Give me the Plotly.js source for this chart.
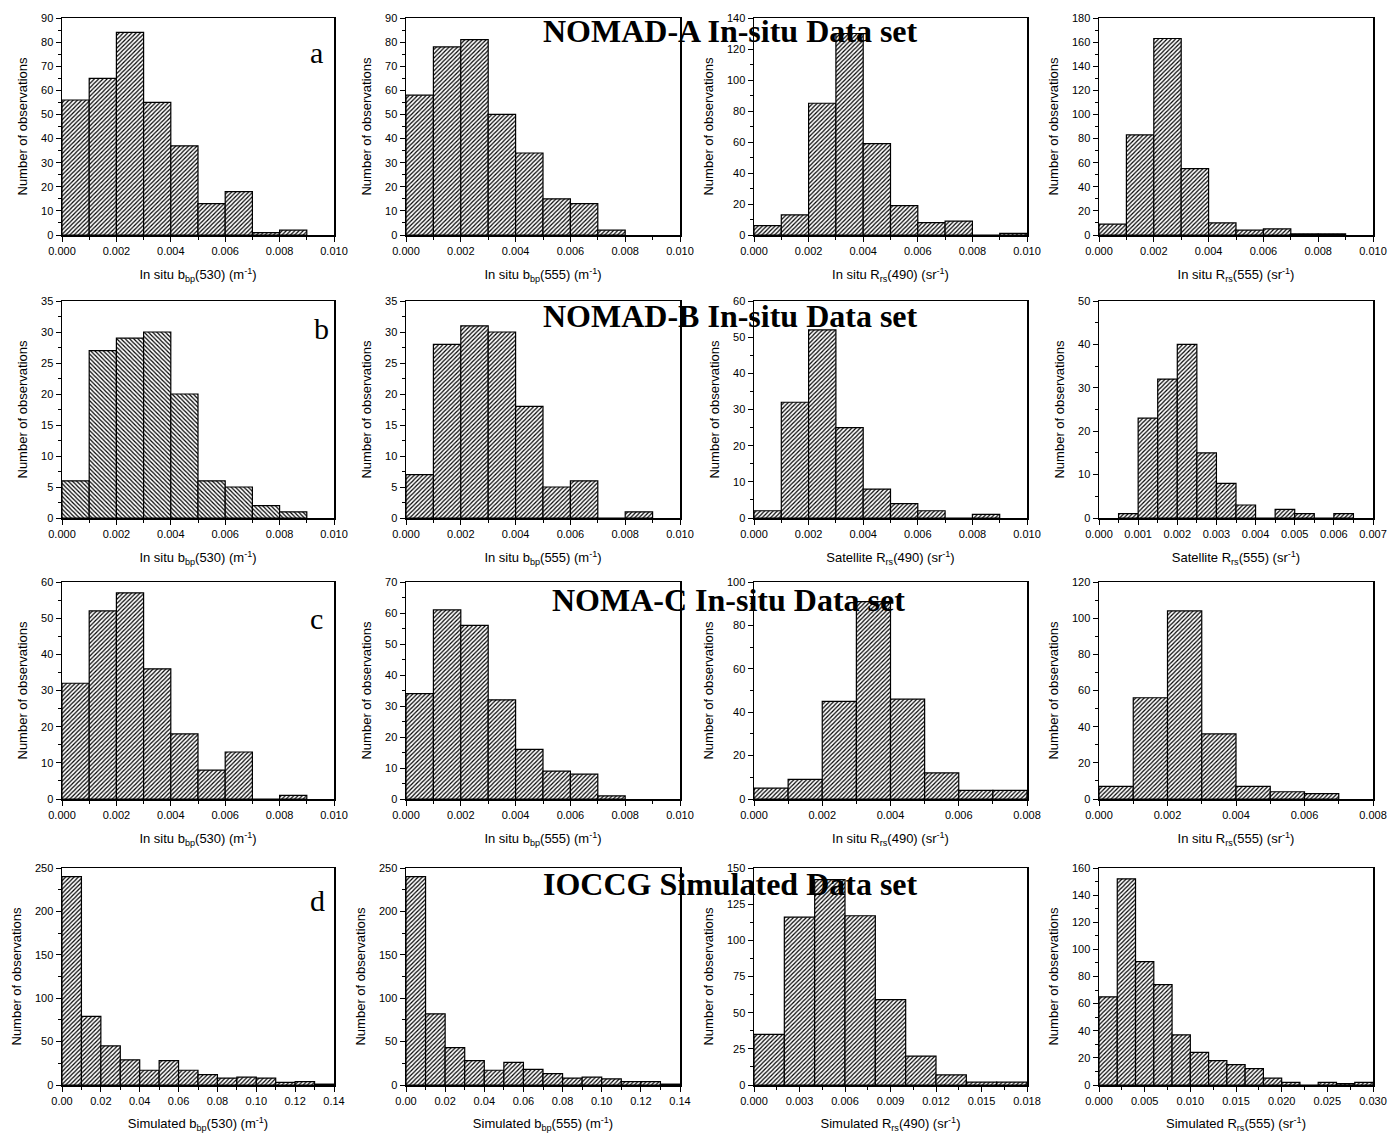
<!DOCTYPE html>
<html><head><meta charset="utf-8">
<script src="https://cdn.plot.ly/plotly-3.0.1.min.js"></script>
<style>html,body{margin:0;padding:0;background:#fff}</style>
</head><body><div id="chart" style="width:1392px;height:1133px"></div>
<script>
// ---- bin left edges ----
const edgesA = [0,0.001,0.002,0.003,0.004,0.005,0.006,0.007,0.008,0.009];
const edgesHalf = [0.0005,0.001,0.0015,0.002,0.0025,0.003,0.0035,0.004,0.0045,0.005,0.0055,0.006];
const edgesB = [0,0.01,0.02,0.03,0.04,0.05,0.06,0.07,0.08,0.09,0.10,0.11,0.12,0.13];
const edgesC = [0,0.002,0.004,0.006,0.008,0.010,0.012,0.014,0.016];
const edgesD = [0,0.002,0.004,0.006,0.008,0.010,0.012,0.014,0.016,0.018,0.020,0.022,0.024,0.026,0.028];

// ---- counts (Number of observations) ----
// NOMAD-A
const a_bbp530 = [56,65,84,55,37,13,18,1,2];
const a_bbp555 = [58,78,81,50,34,15,13,2];
const a_rrs490 = [6,13,85,130,59,19,8,9,0,1];
const a_rrs555 = [9,83,163,55,10,4,5,1,1];
// NOMAD-B
const b_bbp530 = [6,27,29,30,20,6,5,2,1];
const b_bbp555 = [7,28,31,30,18,5,6,0,1];
const b_rrs490 = [2,32,52,25,8,4,2,0,1];
const b_rrs555 = [1,23,32,40,15,8,3,0,2,1,0,1];
// NOMA-C
const c_bbp530 = [32,52,57,36,18,8,13,0,1];
const c_bbp555 = [34,61,56,32,16,9,8,1];
const c_rrs490 = [5,9,45,91,46,12,4,4];
const c_rrs555 = [7,56,104,36,7,4,3];
// IOCCG simulated
const d_bbp530 = [240,79,45,29,17,28,17,12,8,9,8,3,4,1];
const d_bbp555 = [240,82,43,28,17,26,18,13,8,9,7,4,4,1];
const d_rrs490 = [35,116,142,117,59,20,7,2,2];
const d_rrs555 = [65,152,91,74,37,24,18,15,12,5,2,0,2,1,2];

// ---- text ----
const rowTitles = ["NOMAD-A In-situ Data set","NOMAD-B In-situ Data set","NOMA-C In-situ Data set","IOCCG Simulated Data set"];
const rowLetters = ["a","b","c","d"];
const yTitle = "Number of observations";
const xTitles = [
 ["In situ b<sub>bp</sub>(530) (m<sup>-1</sup>)","In situ b<sub>bp</sub>(555) (m<sup>-1</sup>)","In situ R<sub>rs</sub>(490) (sr<sup>-1</sup>)","In situ R<sub>rs</sub>(555) (sr<sup>-1</sup>)"],
 ["In situ b<sub>bp</sub>(530) (m<sup>-1</sup>)","In situ b<sub>bp</sub>(555) (m<sup>-1</sup>)","Satellite R<sub>rs</sub>(490) (sr<sup>-1</sup>)","Satellite R<sub>rs</sub>(555) (sr<sup>-1</sup>)"],
 ["In situ b<sub>bp</sub>(530) (m<sup>-1</sup>)","In situ b<sub>bp</sub>(555) (m<sup>-1</sup>)","In situ R<sub>rs</sub>(490) (sr<sup>-1</sup>)","In situ R<sub>rs</sub>(555) (sr<sup>-1</sup>)"],
 ["Simulated b<sub>bp</sub>(530) (m<sup>-1</sup>)","Simulated b<sub>bp</sub>(555) (m<sup>-1</sup>)","Simulated R<sub>rs</sub>(490) (sr<sup>-1</sup>)","Simulated R<sub>rs</sub>(555) (sr<sup>-1</sup>)"]
];

// panel specs: data, edges, bin width, x range/ticks, y range/ticks
const panels = [
 [ {y:a_bbp530,e:edgesA,w:0.001,xr:[0,0.010],xd:0.002,xm:0.001,xf:'.3f',yr:[0,90],yd:10,ym:5},
   {y:a_bbp555,e:edgesA,w:0.001,xr:[0,0.010],xd:0.002,xm:0.001,xf:'.3f',yr:[0,90],yd:10,ym:5},
   {y:a_rrs490,e:edgesA,w:0.001,xr:[0,0.010],xd:0.002,xm:0.001,xf:'.3f',yr:[0,140],yd:20,ym:10},
   {y:a_rrs555,e:edgesA,w:0.001,xr:[0,0.010],xd:0.002,xm:0.001,xf:'.3f',yr:[0,180],yd:20,ym:10} ],
 [ {y:b_bbp530,e:edgesA,w:0.001,xr:[0,0.010],xd:0.002,xm:0.001,xf:'.3f',yr:[0,35],yd:5,ym:2.5,hatch:'\\'},
   {y:b_bbp555,e:edgesA,w:0.001,xr:[0,0.010],xd:0.002,xm:0.001,xf:'.3f',yr:[0,35],yd:5,ym:2.5},
   {y:b_rrs490,e:edgesA,w:0.001,xr:[0,0.010],xd:0.002,xm:0.001,xf:'.3f',yr:[0,60],yd:10,ym:5},
   {y:b_rrs555,e:edgesHalf,w:0.0005,xr:[0,0.007],xd:0.001,xm:0.0005,xf:'.3f',yr:[0,50],yd:10,ym:5} ],
 [ {y:c_bbp530,e:edgesA,w:0.001,xr:[0,0.010],xd:0.002,xm:0.001,xf:'.3f',yr:[0,60],yd:10,ym:5},
   {y:c_bbp555,e:edgesA,w:0.001,xr:[0,0.010],xd:0.002,xm:0.001,xf:'.3f',yr:[0,70],yd:10,ym:5},
   {y:c_rrs490,e:edgesA,w:0.001,xr:[0,0.008],xd:0.002,xm:0.001,xf:'.3f',yr:[0,100],yd:20,ym:10},
   {y:c_rrs555,e:edgesA,w:0.001,xr:[0,0.008],xd:0.002,xm:0.001,xf:'.3f',yr:[0,120],yd:20,ym:10} ],
 [ {y:d_bbp530,e:edgesB,w:0.01,xr:[0,0.14],xd:0.02,xm:0.01,xf:'.2f',yr:[0,250],yd:50,ym:25},
   {y:d_bbp555,e:edgesB,w:0.01,xr:[0,0.14],xd:0.02,xm:0.01,xf:'.2f',yr:[0,250],yd:50,ym:25},
   {y:d_rrs490,e:edgesC,w:0.002,xr:[0,0.018],xd:0.003,xm:0.0015,xf:'.3f',yr:[0,150],yd:25,ym:12.5},
   {y:d_rrs555,e:edgesD,w:0.002,xr:[0,0.030],xd:0.005,xm:0.0025,xf:'.3f',yr:[0,160],yd:20,ym:10} ]
];

const W = 1392, H = 1133;
const colPx = [[62,334],[406,680],[754,1027],[1099,1373]];
const rowPx = [[18,235],[301,518],[582,799],[868,1085]];
const titlePos = [[730,31],[730,316],[728,600],[730,884]];
const letterPos = [[316,52],[321,328],[316,619],[317,900]];

const sans = 'Liberation Sans, Arial, sans-serif';
const serif = 'Liberation Serif, Times New Roman, serif';

const traces = [];
const layout = {
  width: W, height: H,
  margin: {l:0,r:0,t:0,b:0},
  paper_bgcolor:'#fff', plot_bgcolor:'#fff',
  showlegend:false, bargap:0,
  font:{family:sans,color:'#000'},
  annotations: []
};

let k = 0;
for (let r = 0; r < 4; r++) {
  for (let c = 0; c < 4; c++) {
    k++;
    const p = panels[r][c];
    const xa = k === 1 ? 'x' : 'x' + k;
    const ya = k === 1 ? 'y' : 'y' + k;
    traces.push({
      type:'bar', x:p.e.slice(0,p.y.length), y:p.y, xaxis:xa, yaxis:ya,
      width:p.w, offset:0,
      marker:{color:'#fff', line:{color:'#000',width:1.2},
        pattern:{shape:p.hatch||'/', size:3, solidity:0.4, fgcolor:'#000', bgcolor:'#fff', fillmode:'replace'}},
      hoverinfo:'x+y'
    });
    const xdom = [colPx[c][0]/W, colPx[c][1]/W];
    const ydom = [1 - rowPx[r][1]/H, 1 - rowPx[r][0]/H];
    const axCommon = {showline:true, linecolor:'#000', linewidth:1.5, mirror:true,
      ticks:'outside', ticklen:5, tickwidth:1, tickcolor:'#000', showgrid:false, zeroline:false,
      automargin:false, tickfont:{family:sans,size:11,color:'#000'}};
    layout['xaxis' + (k===1?'':k)] = Object.assign({}, axCommon, {
      domain:xdom, anchor:ya, range:p.xr, tick0:0, dtick:p.xd, tickformat:p.xf,
      minor:{ticks:'outside', ticklen:3, tickwidth:1, tickcolor:'#000', dtick:p.xm, tick0:0},
      title:{text:xTitles[r][c], font:{family:sans,size:13,color:'#000'}, standoff:14}
    });
    layout['yaxis' + (k===1?'':k)] = Object.assign({}, axCommon, {
      domain:ydom, anchor:xa, range:p.yr, tick0:0, dtick:p.yd,
      minor:{ticks:'outside', ticklen:3, tickwidth:1, tickcolor:'#000', dtick:p.ym, tick0:0},
      title:{text:yTitle, font:{family:sans,size:13,color:'#000'}, standoff:10}
    });
  }
  layout.annotations.push({
    xref:'paper', yref:'paper', x:letterPos[r][0]/W, y:1-letterPos[r][1]/H,
    text:rowLetters[r], showarrow:false, xanchor:'center', yanchor:'middle',
    font:{family:serif,size:30,color:'#000'}
  });
  layout.annotations.push({
    xref:'paper', yref:'paper', x:titlePos[r][0]/W, y:1-titlePos[r][1]/H,
    text:'<b>'+rowTitles[r]+'</b>', showarrow:false, xanchor:'center', yanchor:'middle',
    font:{family:serif,size:32,color:'#000'}
  });
}

Plotly.newPlot('chart', traces, layout, {displayModeBar:false, staticPlot:true});
</script>
</body></html>
